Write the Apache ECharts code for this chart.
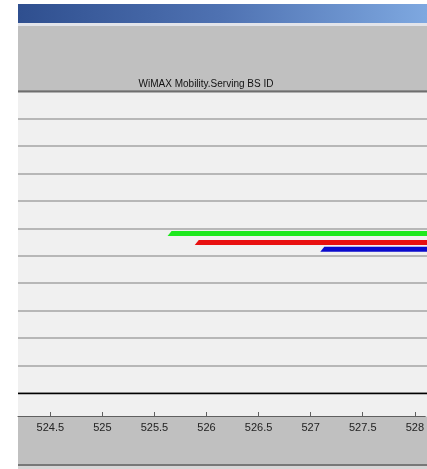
<!DOCTYPE html>
<html>
<head>
<meta charset="utf-8">
<script src="https://cdn.jsdelivr.net/npm/echarts@6/dist/echarts.min.js"></script>
<style>
  html, body { margin: 0; padding: 0; background: #fff; }
  #chart { width: 427px; height: 469px; }
</style>
</head>
<body>
<div id="chart"></div>
<script>
const titleText = 'WiMAX Mobility.Serving BS ID';
const xTicks = [524.5, 525, 525.5, 526, 526.5, 527, 527.5, 528];
const xMin = 524.19;
const xMax = 528.1;
const yLevels = [0, 1, 2, 3, 4, 5, 6, 7, 8, 9, 10, 11];

// each trace: where it starts, where it runs to, and its level
const traceNames = ['Trace 1', 'Trace 2', 'Trace 3'];
const traceColors = ['#1ee81e', '#e81010', '#0a0acc'];
const traceStart = [525.62, 525.88, 527.08];
const traceEnd = [528.1, 528.1, 528.1];
const traceLevel = [5.81, 5.48, 5.24];

const chart = echarts.init(document.getElementById('chart'), null, { renderer: 'canvas' });

const renderBand = (params, api) => {
  const p0 = api.coord([api.value(0), api.value(2)]);
  const p1 = api.coord([api.value(1), api.value(2)]);
  const half = 2.5;
  return {
    type: 'polygon',
    shape: {
      points: [
        [p0[0], p0[1] + half],
        [p0[0] + 4, p0[1] - half],
        [p1[0] + 2, p1[1] - half],
        [p1[0] + 2, p1[1] + half]
      ]
    },
    style: { fill: api.visual('color') }
  };
};

const series = traceNames.map((name, i) => ({
  name,
  type: 'custom',
  renderItem: renderBand,
  itemStyle: { color: traceColors[i] },
  data: [[traceStart[i], traceEnd[i], traceLevel[i]]],
  encode: { x: [0, 1], y: 2 },
  z: 5
}));

series.push({
  name: 'zero',
  type: 'line',
  data: [],
  silent: true,
  markLine: {
    silent: true,
    symbol: 'none',
    label: { show: false },
    lineStyle: { color: '#000', width: 1.3, type: 'solid' },
    data: [{ yAxis: yLevels[0] }]
  }
});

chart.setOption({
  backgroundColor: '#ffffff',
  animation: false,
  grid: [
    { left: 18, right: 0, top: 91, bottom: 76 },
    { left: 18, right: 0, top: 393, bottom: 53 }
  ],
  xAxis: [
    {
      type: 'value', gridIndex: 0, min: xMin, max: xMax,
      axisLine: { show: false },
      axisTick: { show: false },
      axisLabel: { show: false },
      splitLine: { show: false }
    },
    {
      type: 'value', gridIndex: 1, min: xMin, max: xMax,
      axisLine: { show: true, lineStyle: { color: '#606060', width: 1 } },
      axisTick: { show: true, inside: true, length: 4, customValues: xTicks, lineStyle: { color: '#606060' } },
      axisLabel: { customValues: xTicks, margin: 6, color: '#222', fontSize: 11, fontFamily: 'Liberation Sans' },
      splitLine: { show: false }
    }
  ],
  yAxis: [
    {
      type: 'value', gridIndex: 0,
      min: yLevels[0],
      max: yLevels[yLevels.length - 1],
      interval: 1,
      axisLine: { show: false },
      axisTick: { show: false },
      axisLabel: { show: false },
      splitLine: { show: true, lineStyle: { color: '#a4a4a4', width: 1.5 } }
    },
    {
      type: 'value', gridIndex: 1, min: 0, max: 1,
      axisLine: { show: false },
      axisTick: { show: false },
      axisLabel: { show: false },
      splitLine: { show: false }
    }
  ],
  graphic: [
    {
      type: 'rect', z: -10, silent: true,
      shape: { x: 18, y: 4, width: 409, height: 19 },
      style: {
        fill: new echarts.graphic.LinearGradient(0, 0, 1, 0, [
          { offset: 0, color: '#2f4f8f' },
          { offset: 0.5, color: '#4f72b2' },
          { offset: 1, color: '#7ea8e0' }
        ])
      }
    },
    { type: 'rect', z: -10, silent: true, shape: { x: 18, y: 23, width: 409, height: 3 }, style: { fill: '#e2e4ea' } },
    { type: 'rect', z: -10, silent: true, shape: { x: 18, y: 26, width: 409, height: 65 }, style: { fill: '#c0c0c0' } },
    { type: 'rect', z: 10, silent: true, shape: { x: 18, y: 90.5, width: 409, height: 2 }, style: { fill: '#6e6e6e' } },
    { type: 'rect', z: -10, silent: true, shape: { x: 18, y: 92, width: 409, height: 324 }, style: { fill: '#f0f0f0' } },
    { type: 'rect', z: -10, silent: true, shape: { x: 18, y: 416.5, width: 409, height: 47.5 }, style: { fill: '#c0c0c0' } },
    { type: 'rect', z: -10, silent: true, shape: { x: 18, y: 464, width: 409, height: 2 }, style: { fill: '#787878' } },
    { type: 'rect', z: -10, silent: true, shape: { x: 18, y: 466, width: 409, height: 3 }, style: { fill: '#d6d6d6' } },
    {
      type: 'text', z: 10, silent: true,
      x: 206, y: 84,
      style: {
        text: titleText,
        align: 'center',
        verticalAlign: 'middle',
        fill: '#111',
        font: '10px "Liberation Sans"'
      }
    }
  ],
  series
});
</script>
</body>
</html>
